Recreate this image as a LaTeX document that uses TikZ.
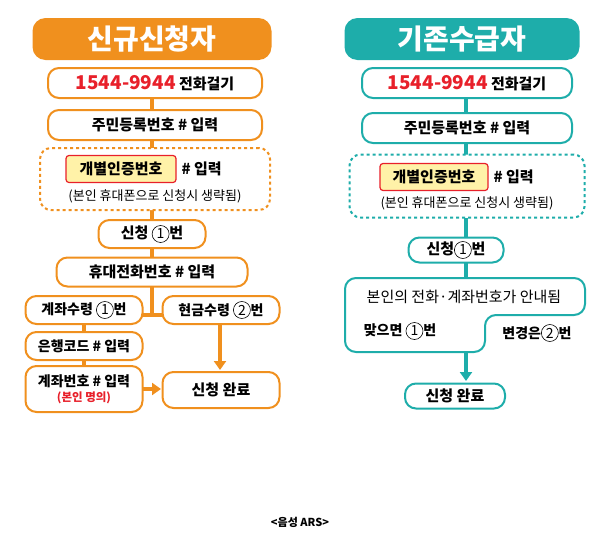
\documentclass[tikz,border=0pt]{standalone}
\usepackage{fontspec}
\setmainfont{Noto Sans CJK KR}
\usetikzlibrary{arrows.meta}
\definecolor{org}{HTML}{F0901E}
\definecolor{tea}{HTML}{1EADAA}
\definecolor{rd}{HTML}{E8202A}
\definecolor{yl}{HTML}{FFF2A8}
\newcommand{\cn}[1]{\tikz[baseline=(c.base)]\node[circle,draw,line width=0.6pt,inner sep=0.5pt,minimum size=17pt,font=\fontsize{14}{14}\selectfont\mdseries](c){#1};}
\tikzset{
 lb/.style={draw=#1,line width=2pt,rounded corners=11pt,fill=white,font=\fontsize{15}{17}\selectfont\bfseries},
 ttl/.style={fill=#1,rounded corners=13pt,text=white,font=\fontsize{28}{30}\selectfont\bfseries},
 con/.style={draw=#1,line width=4pt},
 ar/.style={con=#1,-{Triangle[length=9pt,width=12pt]}}
}
\begin{document}
\begin{tikzpicture}[x=1pt,y=-1pt]
\useasboundingbox (0,0) rectangle (614,544);
% ---------- left ----------
\path[con=org] (152,98)--(152,315) (142,315)--(163,315) (84,324)--(84,366);
\draw[ar=org] (220,324)--(220,370);
\draw[ar=org] (142,389)--(161,389);
\node[ttl=org,minimum width=239pt,minimum height=42pt] (t1) at (152,39) {신규신청자};
\node[lb=org,minimum width=214pt,minimum height=30pt] (a1) at (155,83) {\textcolor{rd}{\fontsize{19}{19}\selectfont 1544-9944} 전화걸기};
\node[lb=org,minimum width=214pt,minimum height=30pt] (a2) at (155,125) {주민등록번호 \# 입력};
\node[lb=org,dashed,minimum width=230pt,minimum height=62pt] (a3) at (155,179) {};
\node[draw=rd,line width=1.2pt,fill=yl,rounded corners=3pt,font=\fontsize{15}{17}\selectfont\bfseries,minimum height=27pt,minimum width=110pt] (a3b) at (121,169) {개별인증번호};
\node[font=\fontsize{15}{17}\selectfont\bfseries,anchor=west] (a3c) at (178,169) {\# 입력};
\node[font=\fontsize{13}{15}\selectfont] (a3d) at (155,196) {(본인 휴대폰으로 신청시 생략됨)};
\node[lb=org,minimum width=107pt,minimum height=28pt] (a4) at (152,234) {신청 \cn{1}번};
\node[lb=org,minimum width=191pt,minimum height=29pt] (a5) at (152,272) {휴대전화번호 \# 입력};
\node[lb=org,minimum width=117pt,minimum height=28pt,font=\fontsize{14}{16}\selectfont\bfseries] (a6) at (84,310) {계좌수령 \cn{1}번};
\node[lb=org,minimum width=117pt,minimum height=28pt,font=\fontsize{14}{16}\selectfont\bfseries] (a7) at (221,310) {현금수령 \cn{2}번};
\node[lb=org,minimum width=117pt,minimum height=28pt,font=\fontsize{14}{16}\selectfont\bfseries] (a8) at (84,346) {은행코드 \# 입력};
\node[lb=org,minimum width=117pt,minimum height=46pt,align=center,font=\fontsize{14}{16}\selectfont\bfseries] (a9) at (84,389) {계좌번호 \# 입력\\[-1pt]\textcolor{rd}{\fontsize{11.5}{12}\selectfont(본인 명의)}};
\node[lb=org,minimum width=117pt,minimum height=36pt] (a10) at (221,390) {신청 완료};
% ---------- right ----------
\path[con=tea] (466,98)--(466,113) (466,143)--(466,155) (466,218)--(466,237) (466,262)--(466,278);
\draw[ar=tea] (466,352)--(466,381);
\node[ttl=tea,minimum width=235pt,minimum height=42pt] (t2) at (462,39) {기존수급자};
\node[lb=tea,minimum width=210pt,minimum height=30pt] (b1) at (467,83) {\textcolor{rd}{\fontsize{19}{19}\selectfont 1544-9944} 전화걸기};
\node[lb=tea,minimum width=210pt,minimum height=30pt] (b2) at (467,128) {주민등록번호 \# 입력};
\node[lb=tea,dashed,minimum width=235pt,minimum height=63pt] (b3) at (467,186) {};
\node[draw=rd,line width=1.2pt,fill=yl,rounded corners=3pt,font=\fontsize{15}{17}\selectfont\bfseries,minimum height=27pt,minimum width=108pt] (b3b) at (434,177) {개별인증번호};
\node[font=\fontsize{15}{17}\selectfont\bfseries,anchor=west] (b3c) at (490,177) {\# 입력};
\node[font=\fontsize{13}{15}\selectfont] (b3d) at (467,203) {(본인 휴대폰으로 신청시 생략됨)};
\node[lb=tea,minimum width=95pt,minimum height=25pt] (b4) at (456,250) {신청\cn{1}번};
\draw[draw=tea,line width=2pt,fill=white,rounded corners=11pt] (345,278)--(585,278)--(585,315)--(485,315)--(485,352)--(345,352)--cycle;
\node[font=\fontsize{15}{17}\selectfont] (b5) at (464,297) {본인의 전화·계좌번호가 안내됨};
\node[font=\fontsize{14}{16}\selectfont\bfseries] (b6) at (400,331) {맞으면 \cn{1}번};
\node[font=\fontsize{14}{16}\selectfont\bfseries] (b7) at (537,333) {변경은\cn{2}번};
\node[lb=tea,minimum width=100pt,minimum height=25pt] (b8) at (455,396) {신청 완료};
\node[font=\fontsize{11}{13}\selectfont\bfseries] (cap) at (300,522) {<음성 ARS>};
\end{tikzpicture}
\end{document}
